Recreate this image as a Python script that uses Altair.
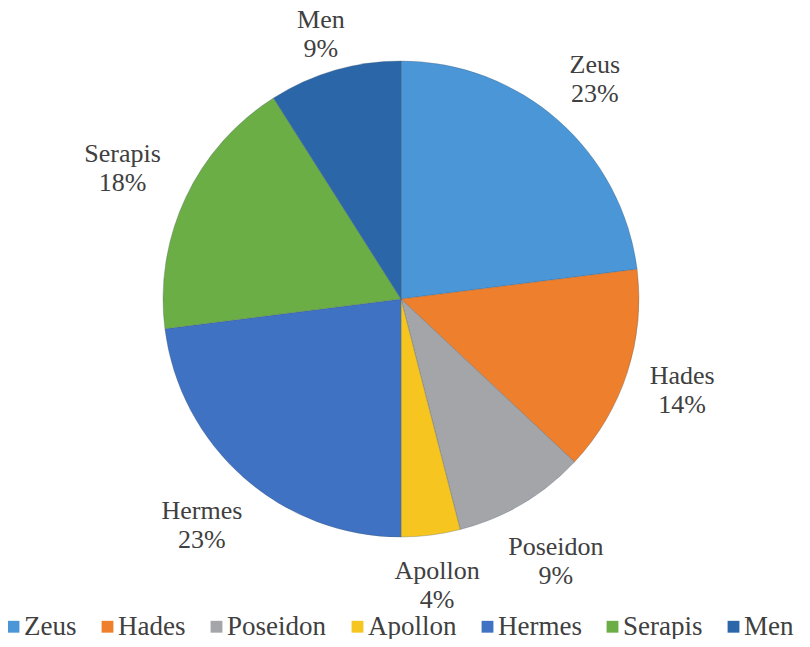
import altair as alt
import pandas as pd

gods = ["Zeus", "Hades", "Poseidon", "Apollon", "Hermes", "Serapis", "Men"]
shares = [23, 14, 9, 4, 23, 18, 9]
colors = ["#4A96D6", "#EE7F2D", "#A3A5A8", "#F7C520", "#3F72C2", "#6AAE45", "#2A66A8"]

df = pd.DataFrame({
    "god": gods,
    "share": shares,
    "order": list(range(len(gods))),
})
df["pct"] = df["share"].astype(str) + "%"
df["label"] = df["god"] + "\n" + df["pct"]

CX, CY, R = 393, 291, 238
FONT = "Liberation Serif"
GAP = 22
HALF_H = 23

base = alt.Chart(df)

pie = base.mark_arc(
    x=CX, y=CY, outerRadius=R, stroke="#4a5a6a", strokeWidth=0.5, strokeOpacity=0.6
).encode(
    theta=alt.Theta("share:Q", stack=True),
    order=alt.Order("order:Q"),
    color=alt.Color(
        "god:N",
        scale=alt.Scale(domain=gods, range=colors),
        sort=gods,
        legend=alt.Legend(
            title=None,
            orient="none",
            legendX=-8,
            legendY=605,
            direction="horizontal",
            columns=7,
            symbolType="square",
            symbolSize=140,
            symbolStrokeWidth=0,
            labelFont=FONT,
            labelFontSize=27,
            labelColor="#404040",
            labelOffset={"expr": "-3"},
            columnPadding=17,
            labelLimit=300,
        ),
    ),
)

labels = base.transform_window(
    cum="sum(share)", sort=[alt.SortField("order")], frame=[None, 0]
).transform_joinaggregate(
    total="sum(share)"
).transform_calculate(
    mid="(datum.cum - datum.share / 2) / datum.total * 2 * PI",
    hw="max(length(datum.god), length(datum.pct)) * 6",
).transform_calculate(
    lr=f"{R + GAP} + datum.hw * abs(sin(datum.mid)) + {HALF_H} * abs(cos(datum.mid))",
).transform_calculate(
    lx=f"{CX} + datum.lr * sin(datum.mid)",
    ly=f"max({CY} - datum.lr * cos(datum.mid), 26)",
).mark_text(
    dy=-14, font=FONT, fontSize=26, color="#404040",
    lineBreak="\n", lineHeight=29, align="center", baseline="middle",
).encode(
    x=alt.X("lx:Q", scale=None, axis=None),
    y=alt.Y("ly:Q", scale=None, axis=None),
    text="label:N",
)

chart = (pie + labels).properties(
    width=794, height=631, padding=0,
    autosize=alt.AutoSizeParams(type="none"),
).configure_view(stroke=None)

chart.save("out.html", embed_options={"renderer": "svg", "actions": False})
